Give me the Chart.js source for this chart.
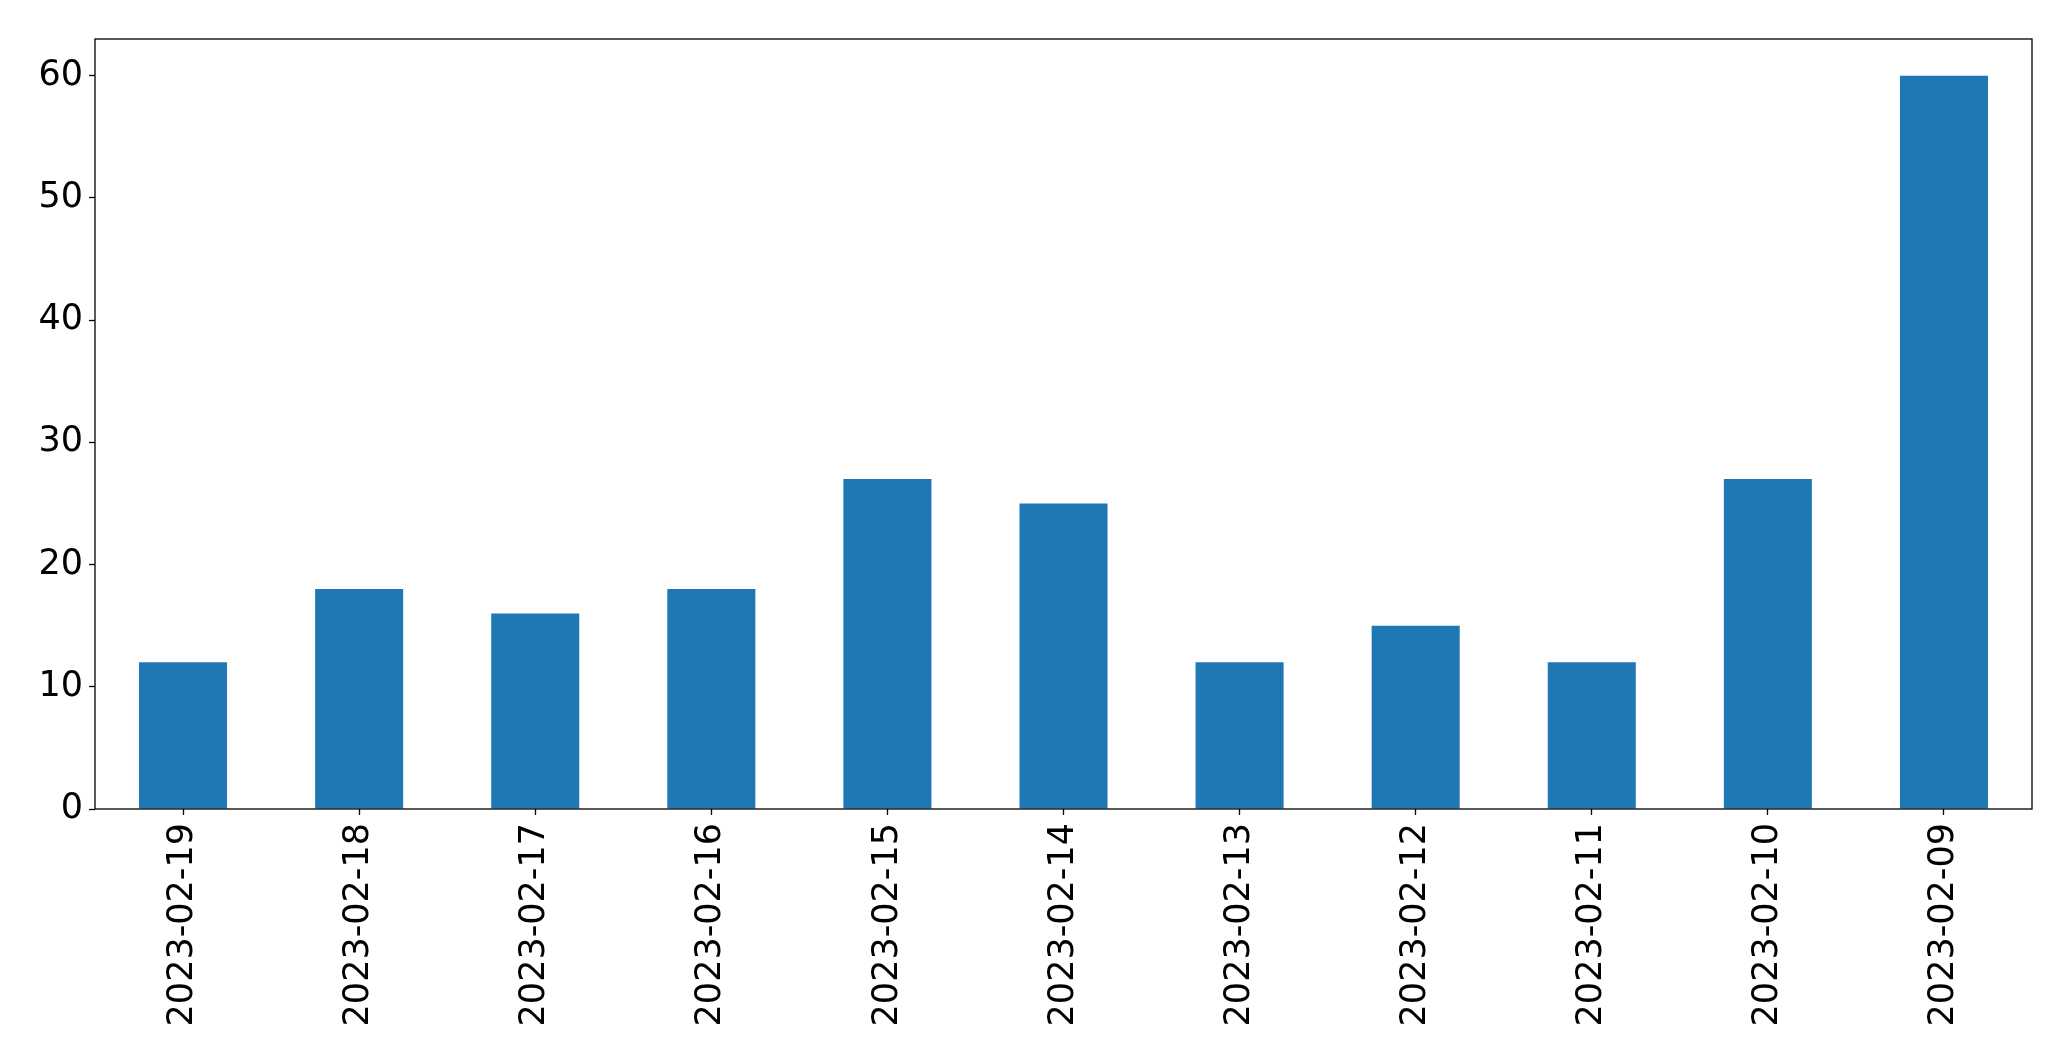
<!DOCTYPE html>
<html>
<head>
<meta charset="utf-8">
<script src="https://cdn.jsdelivr.net/npm/chart.js@4/dist/chart.umd.min.js"></script>
<style>
  html, body { margin: 0; padding: 0; background: #fff; }
  canvas { display: block; }
</style>
</head>
<body>
<canvas id="myChart" width="2071" height="1061"></canvas>
<script>
const dates = [
  "2023-02-19", "2023-02-18", "2023-02-17", "2023-02-16", "2023-02-15", "2023-02-14",
  "2023-02-13", "2023-02-12", "2023-02-11", "2023-02-10", "2023-02-09",
];
const counts = [12, 18, 16, 18, 27, 25, 12, 15, 12, 27, 60];
const yTicks = [0, 10, 20, 30, 40, 50, 60];

const fontSpec = { family: "'DejaVu Sans', sans-serif", size: 35 };

// matplotlib-style box around the plot area
const frame = {
  id: "frame",
  afterDraw(chart) {
    const { ctx, chartArea: a } = chart;
    ctx.save();
    ctx.strokeStyle = "#000";
    ctx.lineWidth = 1.3;
    ctx.strokeRect(a.left, a.top, a.right - a.left, a.bottom - a.top);
    ctx.restore();
  },
};

new Chart("myChart", {
  type: "bar",
  data: {
    labels: dates,
    datasets: [
      {
        data: counts,
        backgroundColor: "#1f77b4",
        borderWidth: 0,
        categoryPercentage: 1,
        barPercentage: 0.5,
      },
    ],
  },
  options: {
    responsive: false,
    animation: false,
    layout: { padding: { top: 39, right: 39, left: 0, bottom: 0 } },
    plugins: {
      legend: { display: false },
      tooltip: { enabled: false },
    },
    scales: {
      x: {
        offset: true,
        grid: {
          offset: false,
          drawOnChartArea: false,
          drawTicks: true,
          tickLength: 6,
          tickColor: "#000",
          tickWidth: 1.3,
        },
        border: { display: false },
        ticks: {
          color: "#000",
          font: fontSpec,
          minRotation: 90,
          maxRotation: 90,
          padding: 8,
          autoSkip: false,
        },
        afterFit(scale) {
          scale.height = 1061 - 809;
        },
      },
      y: {
        min: 0,
        max: 63,
        grid: {
          drawOnChartArea: false,
          drawTicks: true,
          tickLength: 6,
          tickColor: "#000",
          tickWidth: 1.3,
        },
        border: { display: false },
        ticks: {
          color: "#000",
          font: fontSpec,
          padding: 6,
          includeBounds: false,
          stepSize: 10,
        },
        afterBuildTicks(scale) {
          scale.ticks = yTicks.map((v) => ({ value: v }));
        },
        afterFit(scale) {
          scale.width = 95;
        },
      },
    },
  },
  plugins: [frame],
});
</script>
</body>
</html>
